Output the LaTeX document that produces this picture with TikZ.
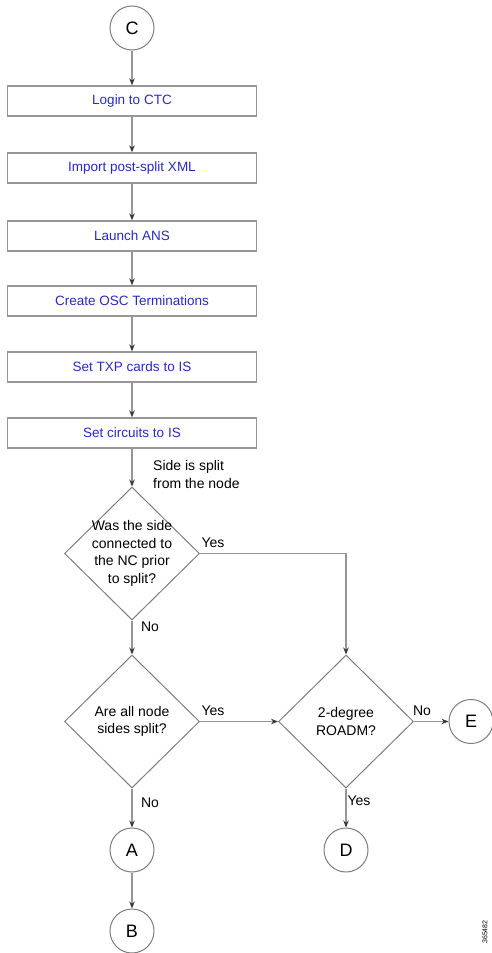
\documentclass[tikz,border=0pt]{standalone}
\usepackage{fontspec}
\setmainfont{Liberation Sans}
\usetikzlibrary{shapes.geometric,arrows.meta}
\definecolor{boxblue}{RGB}{40,40,200}
\definecolor{linegray}{RGB}{150,150,150}
\definecolor{shapegray}{RGB}{125,125,125}
\definecolor{tipgray}{RGB}{55,55,55}
\begin{document}
\begin{tikzpicture}[x=1pt,y=-1pt,
  stepbox/.style={draw=linegray,line width=1.3pt,minimum width=249pt,minimum height=30pt,inner sep=0pt,font=\fontsize{13.5}{16}\selectfont,text=boxblue},
  conn/.style={draw=shapegray,line width=1pt,circle,minimum size=44pt,inner sep=0pt,font=\fontsize{18}{20}\selectfont},
  decision/.style={draw=shapegray,line width=1pt,diamond,minimum width=135pt,minimum height=133pt,inner sep=0pt},
  dtext/.style={align=center,font=\fontsize{14}{17.5}\selectfont,inner sep=0pt},
  flow/.style={draw=linegray,line width=1.3pt,-{Stealth[length=7pt,width=5.5pt,color=tipgray]}},
  lbl/.style={font=\fontsize{14}{17.5}\selectfont,inner sep=0pt},
]
\useasboundingbox (0,0) rectangle (492,953);

\node[conn] (C) at (132,28) {C};
\node[stepbox] (b1) at (132,101) {Login to CTC};
\node[stepbox] (b2) at (132,168) {Import post-split XML};
\node[stepbox] (b3) at (132,236) {Launch ANS};
\node[stepbox] (b4) at (132,301) {Create OSC Terminations};
\node[stepbox] (b5) at (132,367) {Set TXP cards to IS};
\node[stepbox] (b6) at (132,433) {Set circuits to IS};

\node[decision] (d1) at (132,553.5) {};
\node[dtext] (d1t) at (132,553.5) {Was the side\\connected to\\the NC prior\\to split?};
\node[decision] (d2) at (132,721.5) {};
\node[dtext] (d2t) at (132,721.5) {Are all node\\sides split?};
\node[decision] (d3) at (346,721.5) {};
\node[dtext] (d3t) at (346,721.5) {2-degree\\ROADM?};

\node[conn] (E) at (471,721.5) {E};
\node[conn] (A) at (132,850) {A};
\node[conn] (D) at (346,850) {D};
\node[conn] (B) at (132,931) {B};

\coordinate (k1) at (346,553.5);

\draw[flow] (C) -- (b1);
\draw[flow] (b1) -- (b2);
\draw[flow] (b2) -- (b3);
\draw[flow] (b3) -- (b4);
\draw[flow] (b4) -- (b5);
\draw[flow] (b5) -- (b6);
\draw[flow] (b6) -- (d1.north);
\draw[flow] (d1.east) -- (k1) -- (d3.north);
\draw[flow] (d1.south) -- (d2.north);
\draw[flow] (d2.east) -- (d3.west);
\draw[flow] (d3.east) -- (E);
\draw[flow] (d2.south) -- (A);
\draw[flow] (d3.south) -- (D);
\draw[flow] (A) -- (B);

\node[lbl,align=left,anchor=west] (split) at (153,474.5) {Side is split\\from the node};
\node[lbl] (y1) at (213,543) {Yes};
\node[lbl] (n1) at (150,627) {No};
\node[lbl] (y2) at (213,711) {Yes};
\node[lbl] (n2) at (422,711) {No};
\node[lbl] (n3) at (150,803) {No};
\node[lbl] (y3) at (359,801) {Yes};

\node[font=\fontsize{7}{8}\selectfont,rotate=90,inner sep=0pt] (id) at (485,932) {365482};
\end{tikzpicture}
\end{document}
